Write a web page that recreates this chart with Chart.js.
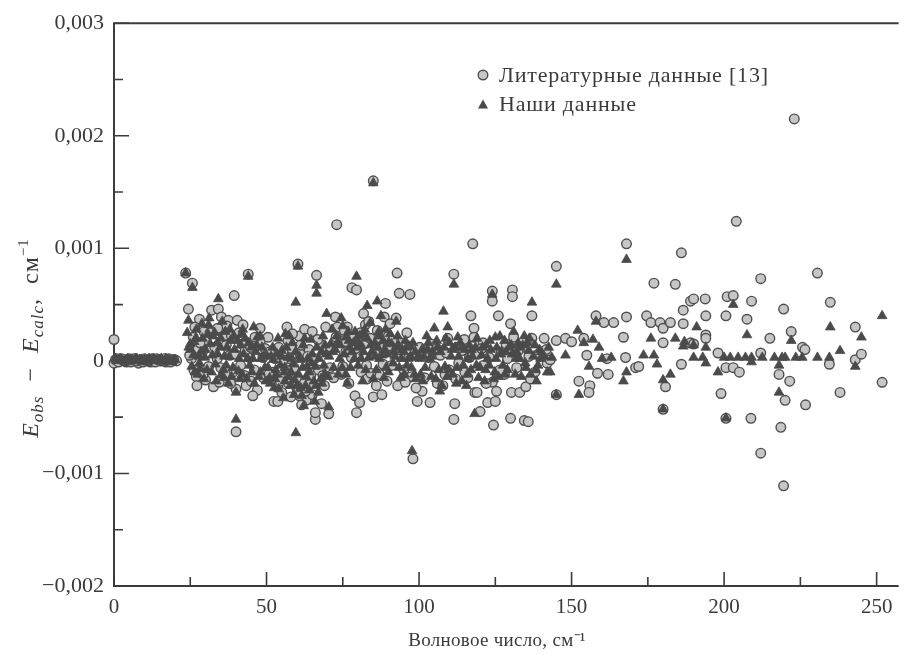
<!DOCTYPE html>
<html lang="ru">
<head>
<meta charset="utf-8">
<title>Eobs - Ecalc</title>
<script src="https://cdn.jsdelivr.net/npm/chart.js@4.4.1/dist/chart.umd.min.js"></script>
<style>
  html, body { margin: 0; padding: 0; background: #fff; }
  #wrap { position: relative; width: 905px; height: 655px; }
</style>
</head>
<body>
<div id="wrap"><canvas id="my-chart" width="905" height="655"></canvas></div>
<script>
'use strict';

// *********** DATA ****************
// ticks
const xTicks = [0, 50, 100, 150, 200, 250];
const xMinorTicks = [25, 75, 125, 175, 225];
const yTicks = [-0.002, -0.001, 0, 0.001, 0.002, 0.003];
const yMinorTicks = [-0.0015, -0.0005, 0.0005, 0.0015, 0.0025];

const seriesNames = ['Литературные данные [13]', 'Наши данные'];

// literature data [13]: [wavenumber, Eobs - Ecalc]
const litLow = [[0,0.00019],[0,-0.00002],[0.5,0.00001],[1,0.00002],[2,0],[3,0.00001],[4,-0.00001],[5,0.00002],[6,0],[7,0.00001],[8,-0.00002],[9,0.00001],[10,0.00002],[11,0],[12,-0.00001],[13,0.00001],[14,0.00002],[15,0],[16,0.00001],[17,-0.00001],[18,0.00002],[19,0],[20,0.00001],[20.5,0]];
const litLow2 = [[1.5,-0.00001],[2.5,0.00002],[3.5,0],[4.5,0.00001],[5.5,-0.00001],[6.5,0.00002],[7.5,0],[8.5,0.00001],[9.5,-0.00001],[10.5,0.00001],[11.5,0],[12.5,0.00002],[13.5,-0.00001],[14.5,0.00001],[15.5,0],[16.5,0.00002],[17.5,0],[18.5,-0.00001],[19.5,0.00001]];
const litB = [[23.5,0.00078],[25.7,0.00069],[24.4,0.00046],[28,0.00037],[26,0.00021],[25.4,0.00002],[27,-0.00014],[30.3,0.00017],[32,0.00045],[34.2,0.00046],[35.2,0.00039],[37.5,0.00036],[40.4,0.00036],[39.4,0.00058],[42.3,0.00032],[44,0.00077],[47.9,0.00029],[41,0.00025],[32.6,-0.00023],[34.5,-0.00019],[40,-0.00025],[43.3,-0.00022],[40,-0.00063],[29,0.00008],[31,-0.00005],[33,0.00012],[36,0.00022],[38,0.00005],[39,-0.0001],[42,0.00015],[44.5,0.00003],[46,-0.00008],[48,0.00018],[49,-0.00015],[26.5,0.0003],[29.5,0.00026],[36.5,-0.00012],[45,-0.00018],[47,-0.00026],[30,-0.00017],[27.5,0.00011],[37,0.00031],[43,0.00009]];
const litB2 = [[24.8,0.00005],[26.2,-0.00008],[28.2,0.00016],[29.2,-0.00012],[31.5,0.00025],[33.8,0.00002],[35,-0.00006],[36.8,0.00014],[38.5,0.00022],[39.8,0.00006],[41.5,-0.00004],[42.8,-0.00013],[44.8,0.00012],[46.2,0.00021],[48.8,0.00003],[49.5,0.00011],[27.2,-0.00022],[34,0.00029],[45.5,-0.00031],[38.2,-0.0002]];
const litC = [[52.4,-0.00036],[53.7,-0.00023],[53.7,-0.00036],[56.7,0.0003],[57,0.00018],[60.3,0.00086],[60.6,0.00022],[62.5,0.00028],[65,0.00026],[66.4,0.00076],[69.4,0.0003],[66,-0.00052],[66,-0.00046],[70.4,-0.00047],[51,0.00008],[52,-0.0001],[54,0.00012],[55,-0.00028],[56,-0.00015],[57.5,0.00002],[58,-0.00032],[59,-0.00006],[60,-0.00025],[61,0.00006],[62,-0.00018],[63,-0.00035],[64,0.0001],[65,-0.0003],[67,-0.00008],[67.5,0.00015],[68,-0.00038],[69,-0.00022],[58.5,0.00024],[61.5,-0.00039],[63.5,0.00004],[50.5,0.00021],[55.5,0.00001],[64.5,-0.00013]];
const litC2 = [[50.8,-0.00012],[52.8,0.00002],[54.5,-0.00018],[56.8,-0.00008],[58.2,0.00011],[59.8,-0.00015],[61.2,0.00014],[62.8,-0.00027],[64.2,-0.00021],[65.8,0.00002],[66.8,0.00019],[68.5,-0.00013],[69.8,0.00008],[57.2,-0.0002],[60.8,-0.00031]];
const litD = [[72.6,0.00039],[73,0.00121],[73.3,0.0003],[76.5,0.0003],[78,0.00065],[79.5,0.00063],[81.8,0.00042],[82.4,0.00032],[85,0.0016],[86.3,0.00027],[88.6,0.00039],[89,0.00051],[92.5,0.00038],[92.8,0.00078],[93.5,0.0006],[97,0.00059],[79,-0.00031],[80.5,-0.00037],[79.5,-0.00046],[85,-0.00032],[86,-0.00022],[71,0.00012],[72,-0.00015],[74,0.00018],[75,-0.00005],[76,0.00008],[77,-0.0002],[78.5,0.0002],[80,0.00005],[81,-0.0001],[82,0.00015],[83,-0.00016],[84,0.0002],[85.5,0.00008],[87,-0.00012],[88,0.00012],[89.5,-0.00018],[90,0.00022],[91,-0.00004],[92,0.0001],[93,-0.00022],[94,0.00016],[95,-0.00008],[96,0.00025],[97.5,-0.00014],[98.5,0.00005],[99.4,-0.00036],[98,-0.00087],[101,-0.00027],[75.5,0.00027],[83.5,0.00035],[90.5,0.00033]];
const litD2 = [[70.8,-0.00006],[72.8,0.00021],[74.5,-0.00012],[76.2,0.00017],[77.8,0.00003],[79.2,0.00011],[80.8,0.00025],[82.8,-0.00004],[84.2,-0.00011],[86.8,0.00019],[88.2,-0.00003],[89.8,0.00013],[91.2,0.00018],[93.8,0.00004],[95.5,-0.00019],[96.8,0.0001],[99,-0.00024],[87.8,-0.0003]];
const litE = [[103.6,-0.00037],[106,-0.0002],[108.5,-0.00012],[109.4,0.0002],[111.4,0.00077],[111.7,-0.00038],[111.4,-0.00052],[112.4,0.00012],[116,-0.00015],[117,0.0004],[117.6,0.00104],[118,0.00029],[118,0.00021],[118.3,-0.00028],[119,-0.00028],[120,-0.00045],[121,0.00016],[121,-0.00004],[122.5,-0.00037],[124,0.00062],[124,0.00053],[124,-0.00019],[124.4,-0.00057],[125,-0.00036],[125.4,-0.00027],[126,0.0004],[130,0.00033],[130,-0.00051],[130.3,-0.00028],[130.6,0.00063],[130.6,0.00057],[131,0.00021],[133,-0.00028],[134,0.00012],[134.5,-0.00053],[135,-0.00023],[135.8,-0.00054],[137,0.0004],[137,0.0002],[141,0.0002],[141.7,0.0001],[102,0.00008],[104,0.00015],[105,-0.00005],[107,0.00005],[110,-0.00008],[113,-0.00002],[114,0.00009],[115,-0.0001],[119.5,0.00006],[123,0.00003],[127,0.00008],[128,-0.00012],[129,0.00002],[132,-0.00006],[136,0.00004],[138,-0.0001],[139,0.00006],[142,-0.00002],[143,0.00001]];
const litE2 = [[100.2,0.00012],[101.8,-0.00015],[103.2,0.00003],[105.8,0.00011],[107.8,-0.00022],[109,0.00007],[112,-0.00016],[114.8,0.00019],[116.5,0.00003],[120.5,0.00011],[122,-0.0002],[126.5,-0.00008],[128.5,0.00015],[132.5,0.00009],[136.5,-0.00016]];
const litF = [[145,0.00018],[145,0.00084],[148,0.0002],[150,0.00017],[154,0.0002],[152.4,-0.00018],[145,-0.0003],[155,0.00005],[156,-0.00022],[155.7,-0.00028],[158,0.0004],[160.6,0.00034],[161.6,0.00002],[162,-0.00012],[158.5,-0.00011],[163.8,0.00034],[167,0.00021],[167.7,0.00003],[168,0.00104],[168,0.00039],[171,-0.00006],[172,-0.00005],[174.6,0.0004],[176,0.00034],[177,0.00069],[179,0.00034],[180,0.00029],[180,0.00016],[180.8,-0.00023],[180,-0.00043],[182.4,0.00034],[184,0.00068],[186,0.00096],[186,-0.00003],[186.6,0.00045],[186.6,0.00033],[189,0.00053],[189,0.00016],[190,0.00055],[193.8,0.00055],[194,0.0004],[194,0.00023],[194,0.0002],[190,0.00015],[198,0.00007],[199,-0.00029],[200.6,0.0004],[200.6,-0.00006],[200.6,-0.00051],[201,0.00057],[203,0.00058],[203,-0.00006],[205,-0.0001],[204,0.00124]];
const litG = [[207.5,0.00037],[208.8,-0.00051],[209,0.00053],[212,0.00073],[212,0.00007],[212,-0.00082],[215,0.0002],[218,-0.00012],[218.6,-0.00059],[219.5,0.00046],[219.5,-0.00111],[220,-0.00035],[221.5,-0.00018],[222,0.00026],[223,0.00215],[225.7,0.00012],[226.5,0.0001],[226.7,-0.00039],[230.6,0.00078],[234.5,-0.00003],[234.8,0.00052],[238,-0.00028],[243,0.0003],[243,0.00001],[245,0.00006],[251.8,-0.00019]];

// our data
const ourLow = [[0.5,0.00002],[1.5,0],[2.5,0.00001],[3.5,-0.00001],[4.5,0.00002],[5.5,0.00001],[6.5,0],[7.5,0.00002],[8.5,0.00001],[9.5,-0.00001],[10.5,0],[11.5,0.00002],[12.5,0.00001],[13.5,0],[14.5,0.00001],[15.5,0.00002],[16.5,-0.00001],[17.5,0.00001],[18.5,0],[19.5,0.00001]];
const ourLow2 = [[1,0.00001],[2,0.00002],[3,0],[4,0.00001],[5,-0.00001],[6,0.00001],[7,0.00002],[8,0],[9,0.00001],[10,0.00001],[11,-0.00001],[12,0.00001],[13,0.00002],[14,0],[15,0.00001],[16,0],[17,0.00002],[18,0.00001],[19,-0.00001],[20,0.00001]];
const ourB = [[23.5,0.00078],[25.7,0.00065],[24.4,0.00036],[34.2,0.00055],[44,0.00075],[40,-0.00052],[40,-0.00028],[24,0.00025],[25,0.00015],[26,0.00005],[27,0.00028],[28,-0.00002],[29,0.0002],[30,0.0001],[31,0.00032],[32,-0.0001],[33,0.00025],[34,0.00006],[35,0.0002],[36,-0.00015],[37,0.00012],[38,0.00028],[39,-0.00006],[40.5,0.00018],[41,0.00002],[42,-0.00012],[43,0.0002],[44.5,-0.00004],[45,0.00012],[46,-0.0002],[47,0.00021],[48,-0.0001],[49,0.00004],[26.5,-0.0001],[29.5,-0.00016],[33.5,-0.00018],[37.5,-0.0002],[35.5,0.00035],[47.9,0.00022],[41.5,0.00014]];
const ourB2 = [[24.5,0.00012],[25.5,-0.00005],[26.8,0.0002],[27.5,-0.00012],[28.5,0.00008],[29.8,0.00003],[30.5,-0.00008],[31.5,0.00015],[32.5,0.00022],[33.2,-0.00003],[34.8,0.00012],[35.8,-0.00008],[36.5,0.00026],[37.8,0.00004],[38.5,-0.00014],[39.5,0.0001],[40.8,-0.00009],[41.8,0.00024],[42.5,0.00006],[43.5,-0.00016],[44.2,0.00016],[45.5,0.00002],[46.5,0.00008],[47.5,-0.00014],[48.5,0.00012],[49.5,-0.00006],[31.2,0.00038],[28.8,0.00033],[36.2,0.00004],[45.8,0.0003]];
const ourC = [[59.6,0.00052],[59.6,-0.00064],[60.3,0.00084],[62.2,-0.0004],[66.4,0.00067],[66.4,0.0006],[69.7,0.00042],[70.4,-0.00041],[50,0.00005],[51,-0.00015],[52,0.00012],[53,-0.00008],[54,-0.00025],[55,0.00009],[56,-0.00018],[57,0.00003],[58,-0.0001],[58.5,0.00016],[60,-0.00022],[61,0.00001],[62,0.00014],[63,-0.00014],[64,-0.00026],[65,0.00006],[66,-0.00005],[67,-0.00028],[68,0.00008],[69,-0.00012],[55.5,-0.00033],[61.5,-0.00031],[64.5,0.00019],[57.5,0.00022],[52.5,-0.00024],[68.5,0.00022]];
const ourC2 = [[50.5,-0.00006],[51.5,0.00004],[52.8,-0.00016],[53.5,0.00006],[54.5,-0.00004],[55.8,-0.0001],[56.5,0.00012],[57.8,-0.00022],[58.8,-0.00003],[59.5,0.00008],[60.5,-0.00012],[61.8,-0.00006],[62.8,-0.00022],[63.5,0.00002],[64,-0.0001],[65.5,-0.00018],[66.5,0.00012],[67.8,-0.00016],[68.8,-0.00004],[69.5,0.00006],[53.8,0.0002],[56.2,0.00024],[62.5,0.0002],[65.8,-0.00036],[59,-0.0003]];
const ourD = [[79.5,0.00075],[83,0.00049],[86.3,0.00053],[85,0.00158],[71,0.00015],[72,-0.00006],[73,0.00022],[74,0.00002],[75,0.00031],[76,-0.00012],[77,0.00018],[78,0.00008],[79,0.00026],[80,-0.00004],[81,0.00014],[82,0.00024],[83.5,0.00003],[84,0.00034],[85.5,0.00016],[86,-0.00008],[87,0.00022],[88,0.00005],[89,0.00028],[90,-0.0001],[91,0.00015],[92,0.00004],[93,0.00022],[94,-0.00015],[95,0.00008],[96,-0.00004],[97,0.00013],[97.7,-0.0008],[98.5,-0.00012],[99.5,0.00003],[92.5,0.00035],[76.5,-0.0002],[81.5,-0.00018],[88.5,-0.00015],[74.5,0.00038],[87.5,0.0004]];
const ourD2 = [[70.5,0.00004],[71.5,0.00028],[72.5,0.0001],[73.5,-0.00012],[74,0.00014],[75.5,0.00006],[76.8,0.00026],[77.5,-0.00006],[78.5,0.00016],[79.8,0.00012],[80.5,0.00022],[81,0.00002],[82.5,-0.00008],[83,0.0002],[84.5,0.00008],[85,-0.00016],[86.5,0.00012],[87,0.00002],[88.2,0.00018],[89.5,0.00006],[90.5,0.00024],[91.5,-0.00002],[92.8,0.00012],[93.5,-0.00006],[94.5,0.0001],[95.5,0.00018],[96.5,0.00002],[97.5,-0.00006],[98,0.00016],[99,-0.00016]];
const ourE = [[105,0.00029],[106.8,-0.00027],[108,0.00044],[109.4,0.0003],[111.4,0.00068],[112.7,0.00021],[118.2,-0.00047],[124,0.00059],[124.8,-0.0001],[134,0.00014],[137,0.00052],[142,-0.0001],[101,0.0001],[102,-0.00006],[103,0.00016],[104,-0.00014],[107,0.00008],[108.5,-0.00005],[110,0.00016],[111,-0.00012],[113,0.00004],[114,-0.00018],[115,0.0001],[116,0.00002],[117,-0.00008],[118.5,0.00012],[119.5,-0.00015],[120.5,0.00005],[122,0.00014],[123,-0.00004],[125,0.00021],[126,-0.00014],[127,0.00008],[128,0.00018],[129,-0.00008],[130.5,0.00006],[131.5,-0.00012],[132.5,0.00016],[133,0.00002],[135,-0.00006],[136,0.00009],[138,0.00014],[139,-0.00004],[140,0.00008],[143.5,0.00003]];
const ourE2 = [[100.5,-0.00012],[101.5,0.00004],[102.5,0.00022],[103.5,0.00002],[104.5,0.00008],[105.5,-0.00016],[106,0.00012],[107.5,-0.00022],[108.8,0.0002],[109.8,-0.00008],[110.5,0.00004],[111.8,0.00012],[112.2,-0.0002],[113.5,0.00016],[114.5,-0.00004],[115.5,-0.00022],[116.5,0.00014],[117.5,0.00004],[119,0.0002],[120,-0.00006],[121.5,-0.00018],[122.5,0.00002],[123.5,0.0001],[124.5,-0.00016],[125.5,0.00012],[126.5,0.00022],[127.5,-0.00004],[128.5,0.00008],[129.5,0.00012],[131,0.00026],[132,0.00008],[133.5,-0.00014],[134.5,0.00022],[135.5,0.00016],[136.5,-0.00012],[137.5,0.00004],[138.5,-0.00018],[139.5,0.0001],[141,0.00004],[142.5,0.00012]];
const ourDense1 = [[25.2,0.0001],[26.3,0.00017],[27.8,0.00004],[28.3,-0.00007],[30.8,0.00024],[32.2,0.00005],[33.8,0.00016],[35.2,-0.00012],[36.8,-0.00004],[38.2,0.00018],[39.2,0.00022],[41.2,-0.00016],[42.2,0.00028],[43.8,0.00002],[45.2,-0.0001],[46.8,0.00014],[48.2,0.00002],[49.8,-0.00018],[51.2,-0.0002],[52.2,0.00001],[53.2,-0.00012],[54.8,0.00004],[56,-0.00006],[57.2,-0.00014],[58.2,0.00002],[59.2,-0.00017],[60.8,0.00004],[61.2,-0.00024],[63.2,-0.00005],[64.8,-0.00002],[66.2,-0.00022],[67.2,0.00002],[68.2,-0.0002],[69.2,0.00014],[70.2,-0.00014],[71.8,0.00008],[73.2,0.00016],[74.8,-0.00006],[76.2,0.00021],[77.2,0.00012],[78.8,0.00002],[79.2,0.00018]];
const ourDense2 = [[80.2,0.00016],[81.8,0.00008],[82.2,0.00028],[84.2,0.00014],[85.8,0.00004],[86.8,0.00026],[88.8,0.0001],[89.2,-0.00006],[90.2,0.00016],[91.8,0.00008],[93.2,0.00014],[94.2,0.00002],[95.2,-0.00012],[96.2,0.00012],[97.2,0.00004],[98.8,0.00008],[100.2,0.00002],[101.2,-0.00018],[102.8,0.0001],[104.2,0.00004],[105.8,0.00018],[106.5,-0.00008],[108.2,0.00012],[109.2,-0.00014],[110.8,0.0001],[112.5,-0.00006],[114.2,0.00012],[115.8,-0.00012],[117.2,0.0001],[118.8,-0.00004],[120.8,0.00012],[121.8,-0.00008],[123.2,0.00018],[125.2,0.00002],[126.8,0.00006],[128.2,-0.00012],[130.2,0.00014],[131.8,0.00002],[133.2,0.00012],[134.8,-0.00002],[136.2,0.0002],[138.2,-0.00008],[139.8,0.00002]];
const ourF = [[143,-0.0001],[145,0.00068],[145,-0.0003],[148,0.00005],[152,0.00027],[152.4,-0.0003],[154,0.00016],[155.7,-0.00005],[157,0.00019],[158,0.00035],[159,0.00012],[160,0.00002],[163,0.00003],[168,0.0009],[168,-0.0001],[167,-0.00018],[173.6,0.00005],[176,0.0002],[177,0.00005],[178,-0.00003],[180,-0.00017],[180,-0.00043],[182.4,-0.00012],[184,0.0002],[186.6,0.00013],[187,0.00017],[190,0.00014],[191,0.0003],[190,0.00003],[193,0.00003],[194,0.00012],[194,-0.00002],[198,-0.0001],[200,0.00003],[200.6,-0.00051],[202,0.00003],[203,0.0005]];
const ourG = [[204.6,0.00003],[207,0.00003],[207.5,0.00023],[209,0.00003],[209,-0.00001],[212.5,0.00003],[216.5,0.00003],[218,-0.00004],[218,-0.00028],[219,0.00003],[220,0.00003],[222,0.00018],[223.5,0.00003],[225.6,0.00003],[230.6,0.00003],[234.5,0.00003],[234.8,0.0003],[238,0.00009],[243,-0.00005],[245,0.00021],[251.8,0.0004]];

// *********** STYLE ****************
const fontFamily = "'Liberation Serif', 'Times New Roman', serif";
const textColor = '#3a3a3a';
const axisColor = '#3c3c3c';
const circleFill = '#c6c6c6';
const circleEdge = '#4f4f4f';
const triangleFill = '#4a4a4a';

// ********** HELPERS ********************
function toPoints(list){
  return list.map(p => ({x: p[0], y: p[1]}));
}

function formatY(v){
  if(Math.abs(v) < 1e-12){
    return '0';
  }
  return (v < 0 ? '\u2212' : '') + Math.abs(v).toFixed(3).replace('.', ',');
}

let literatureData = toPoints([].concat(litLow, litLow2, litB, litB2, litC, litC2, litD, litD2, litE, litE2, litF, litG));
let ourData = toPoints([].concat(ourLow, ourLow2, ourB, ourB2, ourC, ourC2, ourD, ourD2, ourE, ourE2, ourDense1, ourDense2, ourF, ourG));

// frame, inward ticks, legend and axis titles
const decorPlugin = {
  id: 'decor',
  beforeDatasetsDraw(chart){
    const ctx = chart.ctx;
    const a = chart.chartArea;
    const xs = chart.scales.x;
    const ys = chart.scales.y;
    ctx.save();
    ctx.strokeStyle = axisColor;
    ctx.lineWidth = 2;
    ctx.beginPath();
    ctx.moveTo(a.right, a.top);
    ctx.lineTo(a.left, a.top);
    ctx.lineTo(a.left, a.bottom);
    ctx.lineTo(a.right, a.bottom);
    ctx.stroke();

    ctx.lineWidth = 1.6;
    ctx.beginPath();
    xTicks.forEach(v => {
      let px = xs.getPixelForValue(v);
      ctx.moveTo(px, a.bottom);
      ctx.lineTo(px, a.bottom - 14);
    });
    xMinorTicks.forEach(v => {
      let px = xs.getPixelForValue(v);
      ctx.moveTo(px, a.bottom);
      ctx.lineTo(px, a.bottom - 9);
    });
    yTicks.forEach(v => {
      let py = ys.getPixelForValue(v);
      ctx.moveTo(a.left, py);
      ctx.lineTo(a.left + 15, py);
    });
    yMinorTicks.forEach(v => {
      let py = ys.getPixelForValue(v);
      ctx.moveTo(a.left, py);
      ctx.lineTo(a.left + 9, py);
    });
    ctx.stroke();
    ctx.restore();
  },
  afterDraw(chart){
    const ctx = chart.ctx;
    ctx.save();

    // legend
    ctx.fillStyle = circleFill;
    ctx.strokeStyle = circleEdge;
    ctx.lineWidth = 1.4;
    ctx.beginPath();
    ctx.arc(483, 75, 4.8, 0, Math.PI * 2);
    ctx.fill();
    ctx.stroke();

    ctx.fillStyle = triangleFill;
    ctx.beginPath();
    ctx.moveTo(483, 99.5);
    ctx.lineTo(488, 108.5);
    ctx.lineTo(478, 108.5);
    ctx.closePath();
    ctx.fill();

    ctx.fillStyle = textColor;
    ctx.font = '22px ' + fontFamily;
    ctx.letterSpacing = '0.8px';
    ctx.textBaseline = 'middle';
    ctx.textAlign = 'left';
    ctx.fillText(seriesNames[0], 499, 76);
    ctx.fillText(seriesNames[1], 499, 105);

    // x title
    ctx.letterSpacing = '0.3px';
    ctx.font = '19px ' + fontFamily;
    ctx.textAlign = 'center';
    ctx.textBaseline = 'alphabetic';
    ctx.fillText('Волновое число, см\u207B\u00B9', 497, 646);

    // y title: E_obs − E_calc, см^-1
    ctx.letterSpacing = '1px';
    const parts = [
      {t: 'E', f: 'italic 24px ' + fontFamily, dy: 0},
      {t: 'obs', f: 'italic 17px ' + fontFamily, dy: 5},
      {t: '  \u2212  ', f: '24px ' + fontFamily, dy: 0},
      {t: 'E', f: 'italic 24px ' + fontFamily, dy: 0},
      {t: 'calc', f: 'italic 17px ' + fontFamily, dy: 5},
      {t: ',  см', f: '24px ' + fontFamily, dy: 0},
      {t: '\u22121', f: '15px ' + fontFamily, dy: -10}
    ];
    let total = 0;
    parts.forEach(p => { ctx.font = p.f; p.w = ctx.measureText(p.t).width; total += p.w; });
    ctx.translate(38, 338);
    ctx.rotate(-Math.PI / 2);
    ctx.textAlign = 'left';
    let cx = -total / 2;
    parts.forEach(p => {
      ctx.font = p.f;
      ctx.fillText(p.t, cx, p.dy);
      cx += p.w;
    });
    ctx.restore();
  }
};

// *********** RENDER CHART ****************
let ctx = document.getElementById('my-chart').getContext('2d');

let myChartObj = {
  type: 'scatter',
  data: {
    datasets: [{
      label: seriesNames[0],
      data: literatureData,
      pointStyle: 'circle',
      pointRadius: 4.8,
      pointBorderWidth: 1.4,
      backgroundColor: circleFill,
      borderColor: circleEdge,
      order: 1,
      clip: false
    },
    {
      label: seriesNames[1],
      data: ourData,
      pointStyle: 'triangle',
      pointRadius: 5.6,
      pointBorderWidth: 0.8,
      backgroundColor: triangleFill,
      borderColor: triangleFill,
      order: 0,
      clip: false
    }]
  },
  options: {
    responsive: false,
    devicePixelRatio: 1,
    animation: false,
    layout: {
      padding: {top: 19, right: 0, bottom: 0, left: 0}
    },
    plugins: {
      legend: {display: false},
      tooltip: {enabled: false}
    },
    scales: {
      x: {
        type: 'linear',
        min: 0,
        max: 257.2,
        afterBuildTicks: s => { s.ticks = xTicks.map(v => ({value: v})); },
        afterFit: s => { s.height = 69; },
        grid: {display: false, drawTicks: false},
        border: {display: false},
        ticks: {
          color: textColor,
          font: {family: fontFamily, size: 21},
          padding: 9,
          maxRotation: 0,
          autoSkip: false
        }
      },
      y: {
        type: 'linear',
        min: -0.002,
        max: 0.003,
        afterBuildTicks: s => { s.ticks = yTicks.map(v => ({value: v})); },
        afterFit: s => { s.width = 114; },
        grid: {display: false, drawTicks: false},
        border: {display: false},
        ticks: {
          color: textColor,
          font: {family: fontFamily, size: 22},
          padding: 10,
          callback: formatY
        }
      }
    }
  },
  plugins: [decorPlugin]
};

new Chart(ctx, myChartObj);
</script>
</body>
</html>
